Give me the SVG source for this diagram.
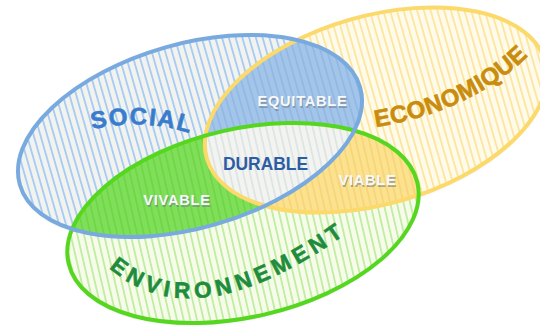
<svg xmlns="http://www.w3.org/2000/svg" xmlns:xlink="http://www.w3.org/1999/xlink" width="540" height="328" viewBox="0 0 540 328">
<style>
.lbl{font-family:"Liberation Sans",Arial,sans-serif;font-weight:bold}
.big{font-size:24px}
.thick{stroke-width:0.6px;stroke-linejoin:round}
.small{font-size:14.5px;letter-spacing:0.8px}
.wh{fill:#f7f9fb}
.sh{fill:#6d7a85;opacity:0.55}
.edge{fill:none;stroke-width:4}
</style>
<defs>
<pattern id="pB" patternUnits="userSpaceOnUse" width="6.5" height="10"><rect width="6.5" height="10" fill="#f2f3ef"/><rect x="0" width="1.8" height="10" fill="#a6cbf3"/></pattern>
<pattern id="pY" patternUnits="userSpaceOnUse" width="6.5" height="10"><rect width="6.5" height="10" fill="#fffbea"/><rect x="0" width="1.8" height="10" fill="#fde5a0"/></pattern>
<pattern id="pG" patternUnits="userSpaceOnUse" width="6.5" height="10"><rect width="6.5" height="10" fill="#f7fcea"/><rect x="0" width="1.8" height="10" fill="#bfeda2"/></pattern>
<pattern id="pBY" patternUnits="userSpaceOnUse" width="6.5" height="10"><rect width="6.5" height="10" fill="#a3c5ea"/><rect x="0" width="1.8" height="10" fill="#93b8e3"/></pattern>
<pattern id="pBG" patternUnits="userSpaceOnUse" width="6.5" height="10"><rect width="6.5" height="10" fill="#80df59"/><rect x="0" width="1.8" height="10" fill="#6fd649"/></pattern>
<pattern id="pYG" patternUnits="userSpaceOnUse" width="6.5" height="10"><rect width="6.5" height="10" fill="#fce28e"/><rect x="0" width="1.8" height="10" fill="#f7d679"/></pattern>
<pattern id="pBYG" patternUnits="userSpaceOnUse" width="6.5" height="10"><rect width="6.5" height="10" fill="#f3f4f0"/><rect x="0" width="1.8" height="10" fill="#dde4e6"/></pattern>
<ellipse id="eB" cx="190" cy="136" rx="177" ry="92" transform="rotate(-16 190 136)"/>
<ellipse id="eY" cx="376" cy="110" rx="176" ry="94" transform="rotate(-16 376 110)"/>
<ellipse id="eG" cx="243" cy="223" rx="179" ry="94" transform="rotate(-13 243 223)"/>
<clipPath id="cB"><use xlink:href="#eB"/></clipPath>
<clipPath id="cY"><use xlink:href="#eY"/></clipPath>
<clipPath id="cG"><use xlink:href="#eG"/></clipPath>
<filter id="shadow" x="-10%" y="-10%" width="120%" height="120%"><feDropShadow dx="0" dy="1" stdDeviation="1.5" flood-color="#888" flood-opacity="0.4"/></filter>
<path id="tpS" d="M 87 131 Q 140 116 196 135"/>
<path id="tpE" d="M 371 128 Q 474 112 532 52"/>
<path id="tpN" d="M 100 259 Q 188 352 358 225"/>
</defs>

<g id="fills">
<use xlink:href="#eB" fill="url(#pB)" filter="url(#shadow)"/>
<use xlink:href="#eY" fill="url(#pY)" filter="url(#shadow)"/>
<use xlink:href="#eG" fill="url(#pG)" filter="url(#shadow)"/>
<use xlink:href="#eY" fill="url(#pBY)" clip-path="url(#cB)"/>
<use xlink:href="#eG" fill="url(#pBG)" clip-path="url(#cB)"/>
<use xlink:href="#eG" fill="url(#pYG)" clip-path="url(#cY)"/>
<g clip-path="url(#cB)"><use xlink:href="#eG" fill="url(#pBYG)" clip-path="url(#cY)"/></g>
</g>

<g id="connectors">
<use xlink:href="#eY" class="edge" stroke="#fbd96a"/>
<use xlink:href="#eG" class="edge" stroke="#55d61f"/>
<use xlink:href="#eB" class="edge" stroke="#78aae0"/>
</g>

<g id="social">
<text class="lbl big thick" fill="#3a7ccc" stroke="#3a7ccc" letter-spacing="1.5"><textPath xlink:href="#tpS" startOffset="50%" text-anchor="middle">SOCIAL</textPath></text>
</g>
<g id="economique">
<text class="lbl thick" font-size="24" fill="#c98c0c" stroke="#c98c0c" letter-spacing="0.5"><textPath xlink:href="#tpE" startOffset="50%" text-anchor="middle">ECONOMIQUE</textPath></text>
</g>
<g id="environnement">
<text class="lbl thick" font-size="22.5" fill="#1e8c3c" stroke="#1e8c3c" letter-spacing="5"><textPath xlink:href="#tpN" startOffset="50%" text-anchor="middle">ENVIRONNEMENT</textPath></text>
</g>
<g id="equitable">
<text class="lbl small sh" x="303.5" y="107.5" text-anchor="middle">EQUITABLE</text>
<text class="lbl small wh" x="302.5" y="106" text-anchor="middle">EQUITABLE</text>
</g>
<g id="durable">
<text class="lbl" font-size="19" fill="#2c5da3" x="223" y="170" textLength="85" lengthAdjust="spacingAndGlyphs">DURABLE</text>
</g>
<g id="vivable">
<text class="lbl small sh" x="178" y="206.5" text-anchor="middle">VIVABLE</text>
<text class="lbl small wh" x="177" y="205" text-anchor="middle">VIVABLE</text>
</g>
<g id="viable">
<text class="lbl small sh" x="368.5" y="186.5" text-anchor="middle">VIABLE</text>
<text class="lbl small wh" x="367.5" y="185" text-anchor="middle">VIABLE</text>
</g>
</svg>
